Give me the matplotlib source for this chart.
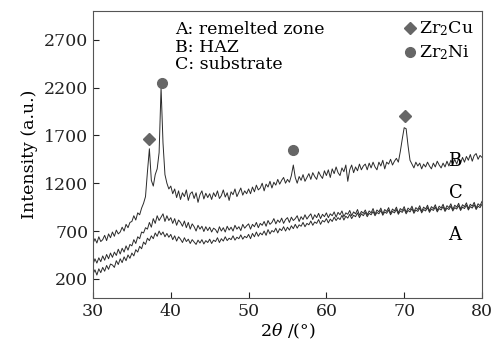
import numpy as np
import matplotlib.pyplot as plt
from matplotlib.lines import Line2D

plt.rcParams['font.family'] = 'DejaVu Serif'
plt.rcParams['mathtext.fontset'] = 'dejavuserif'

# 2theta grid, 0.25 deg steps from 30 to 80
two_theta = np.linspace(30, 80, 201)

# B: HAZ
intensity_b = [
    570, 620, 575, 640, 590, 610, 655, 600, 670, 630, 690, 645, 710, 670, 690, 740, 700, 770, 735, 790,
    800, 860, 815, 890, 870, 940, 990, 1060, 1320, 1560, 1230, 1170, 1290, 1350, 1520, 2200, 1620, 1290, 1200, 1140,
    1170, 1090, 1140, 1050, 1120, 1030, 1100, 1060, 1130, 1020, 1090, 1110, 1040, 1100, 1000, 1080, 1120, 1035, 1095, 1050,
    1090, 1030, 1100, 1060, 1120, 1040, 1070, 1130, 1055, 1100, 1020, 1110, 1080, 1140, 1060, 1105, 1150, 1075, 1120, 1090,
    1140, 1090, 1160, 1110, 1180, 1130, 1150, 1200, 1120, 1190, 1160, 1220, 1150, 1210, 1180, 1240, 1190, 1230, 1260, 1200,
    1240, 1210, 1280, 1390, 1260, 1200, 1270, 1230, 1290, 1220, 1260, 1300, 1240, 1310, 1270, 1240, 1320, 1280, 1250, 1330,
    1280, 1340, 1260, 1350, 1300, 1370, 1310, 1280, 1360, 1320, 1390, 1220, 1340, 1390, 1310, 1370, 1330, 1400, 1340, 1380,
    1400, 1340, 1410, 1360, 1420, 1370, 1340, 1420, 1380, 1440, 1350, 1420, 1400, 1450, 1390, 1430, 1460, 1420, 1530, 1660,
    1780, 1770, 1590, 1440, 1400, 1360, 1420, 1380, 1410, 1350, 1400, 1370, 1420, 1380, 1350, 1410, 1370, 1430, 1390, 1360,
    1410, 1370, 1430, 1380, 1440, 1400, 1450, 1400, 1460, 1410, 1470, 1420, 1480, 1440, 1500, 1430, 1490, 1510, 1450, 1490,
    1470,
]

# C: substrate
intensity_c = [
    350, 410, 365, 420, 380, 440, 395, 455, 410, 470, 425, 480, 445, 510, 460, 520, 480, 545, 500, 560,
    545, 610, 570, 640, 620, 690, 680, 735, 720, 790, 740, 830, 780, 860, 810, 845, 880, 800, 860, 810,
    840, 780, 830, 760, 815, 790, 750, 805, 735, 790, 720, 775, 745, 700, 760, 720, 750, 695, 745, 705,
    740, 690, 730, 715, 680, 745, 700, 735, 690, 750, 710, 740, 700, 760, 720, 745, 705, 770, 730, 755,
    775, 720, 770, 745, 790, 735, 780, 760, 800, 750, 810, 770, 790, 830, 775, 815, 790, 835, 780, 820,
    840, 790, 845, 810, 830, 860, 800, 850, 820, 870, 825, 855, 880, 820, 870, 840, 885, 830, 875, 850,
    890, 840, 880, 860, 900, 845, 895, 870, 910, 850, 890, 875, 915, 860, 900, 880, 925, 865, 905, 885,
    920, 870, 910, 890, 935, 875, 920, 900, 940, 880, 925, 905, 945, 885, 930, 910, 950, 890, 935, 915,
    955, 895, 940, 920, 960, 900, 945, 925, 965, 905, 950, 930, 970, 910, 955, 935, 975, 915, 960, 940,
    980, 920, 965, 945, 985, 925, 970, 950, 990, 930, 975, 955, 995, 935, 980, 960, 1000, 940, 985, 965,
    1010,
]

# A: remelted zone
intensity_a = [
    250, 295, 240, 305, 265, 320, 280, 340, 300, 355, 345, 320, 390, 350, 410, 370, 430, 390, 450, 415,
    470, 440, 505, 480, 540, 515, 585, 560, 625, 600, 650, 620, 680, 645, 700, 660, 690, 640, 675, 635,
    665, 610, 650, 595, 640, 615, 580, 630, 590, 615, 570, 610, 585, 560, 605, 575, 610, 565, 600, 580,
    615, 570, 605, 590, 630, 580, 620, 595, 640, 600, 625, 610, 650, 605, 635, 620, 660, 615, 645, 630,
    665, 620, 675, 640, 690, 645, 680, 660, 700, 655, 715, 670, 705, 690, 730, 680, 725, 705, 745, 700,
    740, 710, 755, 725, 770, 730, 765, 750, 790, 745, 780, 765, 805, 760, 795, 780, 820, 770, 810, 795,
    830, 785, 825, 800, 845, 810, 840, 820, 865, 815, 855, 835, 875, 830, 865, 850, 890, 840, 880, 860,
    895, 850, 885, 870, 905, 860, 895, 880, 915, 865, 900, 885, 920, 870, 905, 890, 925, 875, 910, 895,
    930, 880, 915, 900, 935, 885, 920, 905, 940, 890, 925, 910, 945, 895, 930, 915, 950, 900, 935, 920,
    955, 905, 940, 925, 960, 910, 945, 930, 965, 915, 950, 935, 970, 920, 955, 940, 975, 925, 960, 945,
    980,
]

# phase markers above the peaks
zr2cu_x = [37.2, 70.1]
zr2cu_y = [1660, 1900]
zr2ni_x = [38.9, 55.7]
zr2ni_y = [2250, 1550]

line_color = '#2a2a2a'
mark_color = '#666666'

fig = plt.figure(figsize=(5.04, 3.52), dpi=100)
ax = fig.add_axes([0.1845, 0.1534, 0.7718, 0.8153])

ax.plot(two_theta, intensity_b, color=line_color, lw=0.7)
ax.plot(two_theta, intensity_c, color=line_color, lw=0.7)
ax.plot(two_theta, intensity_a, color=line_color, lw=0.7)

ax.plot(zr2cu_x, zr2cu_y, ls='none', marker='D', ms=6.5, color=mark_color)
ax.plot(zr2ni_x, zr2ni_y, ls='none', marker='o', ms=7, color=mark_color)

ax.set_xlim(30, 80)
ax.set_ylim(0, 3000)
ax.set_xticks([30, 40, 50, 60, 70, 80])
ax.set_yticks([200, 700, 1200, 1700, 2200, 2700])
ax.tick_params(direction='in', length=4, labelsize=12.5, colors='#222222')
for s in ax.spines.values():
    s.set_color('#555555')

ax.set_xlabel(r'2$\theta$ /(°)', fontsize=12.5, labelpad=1)
ax.set_ylabel('Intensity (a.u.)', fontsize=12.5, labelpad=4)

ax.text(0.21, 0.965, 'A: remelted zone\nB: HAZ\nC: substrate', transform=ax.transAxes,
        fontsize=12.5, va='top', ha='left', linespacing=1.05)

ax.text(75.7, 1340, 'B', fontsize=13, ha='left', va='bottom')
ax.text(75.7, 1000, 'C', fontsize=13, ha='left', va='bottom')
ax.text(75.7, 560, 'A', fontsize=13, ha='left', va='bottom')

handles = [
    Line2D([], [], ls='none', marker='D', ms=6.5, color=mark_color, label='Zr$_2$Cu'),
    Line2D([], [], ls='none', marker='o', ms=7, color=mark_color, label='Zr$_2$Ni'),
]
ax.legend(handles=handles, loc='upper right', frameon=False, fontsize=12.5,
          handlelength=0.6, handletextpad=0.2, labelspacing=0.3, borderaxespad=0.1)

fig.savefig('out.png', dpi=100)
